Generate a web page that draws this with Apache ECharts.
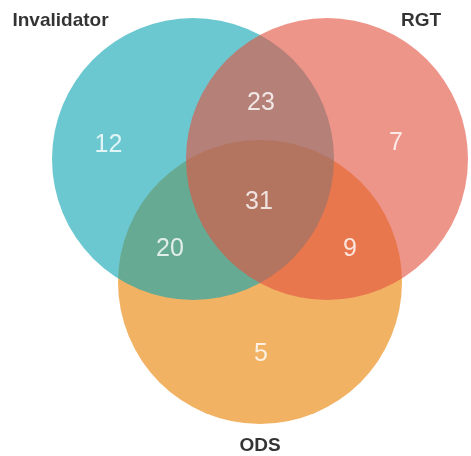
<!DOCTYPE html>
<html>
<head>
<meta charset="utf-8">
<script src="https://cdn.jsdelivr.net/npm/echarts@6/dist/echarts.min.js"></script>
<style>
html,body{margin:0;padding:0;background:#fff;}
#main{width:471px;height:456px;}
</style>
</head>
<body>
<div id="main"></div>
<script>
// ---- data ----
var setNames = ['Invalidator', 'RGT', 'ODS'];
var regionNames = ['Invalidator only', 'Invalidator & RGT', 'RGT only', 'All three', 'Invalidator & ODS', 'RGT & ODS', 'ODS only'];
var regionValues = [12, 23, 7, 31, 20, 9, 5];

// ---- layout (pixel space of the 471x456 canvas) ----
var circleLayout = {
  'Invalidator': { cx: 193, cy: 159, r: 141, color: '#0ea5b2' },
  'RGT':         { cx: 327, cy: 159, r: 141, color: '#e3513f' },
  'ODS':         { cx: 260, cy: 282, r: 142, color: '#ea8101' }
};
var drawOrder = ['ODS', 'Invalidator', 'RGT'];
var setLabelPos = {
  'Invalidator': [60.5, 20],
  'RGT':         [421, 20],
  'ODS':         [260, 445]
};
var regionLabelPos = [[108.5, 143], [261, 101], [396, 141], [259, 200], [170, 247], [350, 247], [261, 352]];

var circleData = drawOrder.map(function (n) {
  var c = circleLayout[n];
  return { name: n, value: [c.cx, c.cy, c.r] };
});
var regionData = regionValues.map(function (v, i) {
  return { name: regionNames[i], value: [regionLabelPos[i][0], regionLabelPos[i][1], v] };
});
var setLabelData = setNames.map(function (n) {
  return { name: n, value: [setLabelPos[n][0], setLabelPos[n][1]] };
});

var chart = echarts.init(document.getElementById('main'), null, { renderer: 'canvas' });
chart.setOption({
  backgroundColor: '#ffffff',
  animation: false,
  grid: { left: 0, right: 0, top: 0, bottom: 0 },
  xAxis: { type: 'value', min: 0, max: 471, show: false },
  yAxis: { type: 'value', min: 0, max: 456, inverse: true, show: false },
  series: [
    {
      type: 'custom',
      data: circleData,
      renderItem: function (params, api) {
        var c = api.coord([api.value(0), api.value(1)]);
        var r = api.size([api.value(2), 0])[0];
        return {
          type: 'circle',
          shape: { cx: c[0], cy: c[1], r: r },
          style: { fill: circleLayout[drawOrder[params.dataIndex]].color, opacity: 0.61 }
        };
      }
    },
    {
      type: 'scatter',
      symbolSize: 0,
      data: regionData,
      label: {
        show: true,
        position: 'inside',
        offset: [0, 2],
        formatter: function (p) { return p.value[2]; },
        color: '#ffffff',
        fontSize: 25,
        fontFamily: 'Liberation Sans, Arial, sans-serif'
      }
    },
    {
      type: 'scatter',
      symbolSize: 0,
      data: setLabelData,
      label: {
        show: true,
        position: 'inside',
        offset: [0, 1],
        formatter: '{b}',
        color: '#000000',
        fontSize: 19,
        fontWeight: 'bold',
        fontFamily: 'Liberation Sans, Arial, sans-serif'
      }
    }
  ]
});
</script>
</body>
</html>
